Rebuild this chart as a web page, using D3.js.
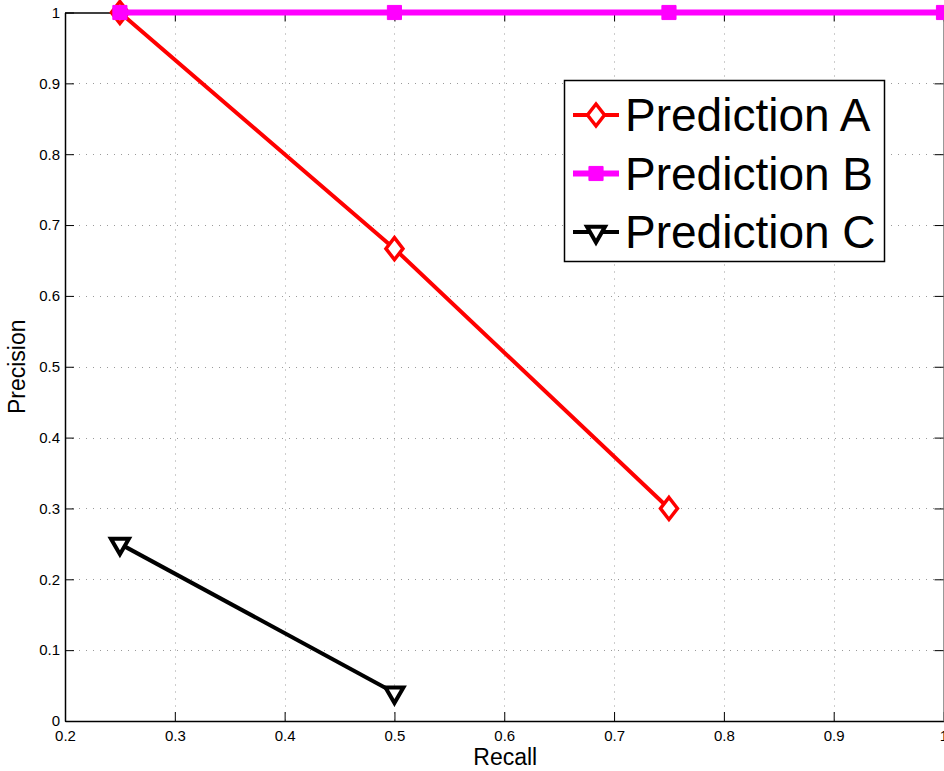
<!DOCTYPE html>
<html>
<head>
<meta charset="utf-8">
<script src="https://cdn.jsdelivr.net/npm/d3@7"></script>
<style>
  html, body { margin: 0; padding: 0; background: #fff; }
  svg { display: block; font-family: "Liberation Sans", Arial, Helvetica, sans-serif; }
</style>
</head>
<body>
<svg id="chart" width="944" height="771"></svg>
<script>
// Precision / recall points for each prediction
const recallA = [0.25, 0.5, 0.75];
const precisionA = [1.0, 0.6667, 0.30];
const recallB = [0.25, 0.5, 0.75, 1.0];
const precisionB = [1.0, 1.0, 1.0, 1.0];
const recallC = [0.25, 0.5];
const precisionC = [0.25, 0.04];

const seriesNames = ["Prediction A", "Prediction B", "Prediction C"];
const xTicks = [0.2, 0.3, 0.4, 0.5, 0.6, 0.7, 0.8, 0.9, 1.0];
const yTicks = [0, 0.1, 0.2, 0.3, 0.4, 0.5, 0.6, 0.7, 0.8, 0.9, 1.0];

const svg = d3.select("#chart");
const W = 944, H = 771;
const m = { left: 65, top: 12.5, right: 0.5, bottom: 50 };
const x = d3.scaleLinear().domain([0.2, 1.0]).range([m.left, W - m.right]);
const y = d3.scaleLinear().domain([0, 1]).range([H - m.bottom, m.top]);

const fmt = v => (v === 0 ? "0" : v === 1 ? "1" : d3.format(".1f")(v));

// dotted grid
const grid = svg.append("g").attr("stroke", "#9a9a9a").attr("stroke-width", 1)
  .attr("stroke-dasharray", "1,6");
grid.selectAll(".gx").data(xTicks.slice(1, -1)).join("line")
  .attr("x1", d => Math.round(x(d)) + 0.5).attr("x2", d => Math.round(x(d)) + 0.5)
  .attr("y1", y(1)).attr("y2", y(0));
grid.selectAll(".gy").data(yTicks.slice(1, -1)).join("line")
  .attr("y1", d => Math.round(y(d)) + 0.5).attr("y2", d => Math.round(y(d)) + 0.5)
  .attr("x1", x(0.2)).attr("x2", x(1));

// axes with inward ticks on all four sides
const tickLen = 9;
const axBottom = svg.append("g").attr("transform", `translate(0,${y(0)})`)
  .call(d3.axisBottom(x).tickValues(xTicks).tickFormat(fmt).tickSizeInner(-tickLen).tickSizeOuter(0).tickPadding(9));
const axLeft = svg.append("g").attr("transform", `translate(${x(0.2)},0)`)
  .call(d3.axisLeft(y).tickValues(yTicks).tickFormat(fmt).tickSizeInner(-tickLen).tickSizeOuter(0).tickPadding(5));
const axTop = svg.append("g").attr("transform", `translate(0,${y(1)})`)
  .call(d3.axisTop(x).tickValues(xTicks).tickFormat("").tickSizeInner(-tickLen).tickSizeOuter(0));
const axRight = svg.append("g").attr("transform", `translate(${x(1)},0)`)
  .call(d3.axisRight(y).tickValues(yTicks).tickFormat("").tickSizeInner(-tickLen).tickSizeOuter(0));
[axBottom, axLeft, axTop, axRight].forEach(g => {
  g.select(".domain").attr("stroke", "#000").attr("stroke-width", 1.5);
  g.selectAll(".tick line").attr("stroke", "#000").attr("stroke-width", 1);
  g.selectAll("text").attr("fill", "#000").attr("font-size", 15)
    .attr("font-family", "'Liberation Sans', Arial, sans-serif");
});
axRight.select(".domain").attr("stroke", "#777");

// axis titles
svg.append("text").attr("x", (x(0.2) + x(1)) / 2 + 1).attr("y", 765)
  .attr("text-anchor", "middle").attr("font-size", 23).text("Recall");
svg.append("text").attr("transform", `translate(25,${(y(0) + y(1)) / 2}) rotate(-90)`)
  .attr("text-anchor", "middle").attr("font-size", 23).text("Precision");

const line = d3.line().x(d => x(d[0])).y(d => y(d[1]));
const zip = (a, b) => a.map((v, i) => [v, b[i]]);

// marker shapes, centred on the origin
const diamondPath = "M0,-11L8.5,0L0,11L-8.5,0Z";
const triPath = d3.symbol().type(d3.symbolTriangle).size(140)();
const squarePath = d3.symbol().type(d3.symbolSquare).size(200)();

const series = [
  { name: seriesNames[0], pts: zip(recallA, precisionA), color: "#ff0000", width: 4,
    marker: diamondPath, fill: "#fff", sw: 3.5, rot: 0 },
  { name: seriesNames[1], pts: zip(recallB, precisionB), color: "#ff00ff", width: 6,
    marker: squarePath, fill: "#ff00ff", sw: 1, rot: 0 },
  { name: seriesNames[2], pts: zip(recallC, precisionC), color: "#000000", width: 4,
    marker: triPath, fill: "#fff", sw: 4, rot: 180 }
];

const markerTransform = (s, px, py) => `translate(${px},${py}) rotate(${s.rot})`;

// draw series in order C, A, B so that B sits on top at the shared point
const drawOrder = [series[2], series[0], series[1]];
drawOrder.forEach(s => {
  svg.append("path").datum(s.pts).attr("d", line).attr("fill", "none")
    .attr("stroke", s.color).attr("stroke-width", s.width).attr("stroke-linejoin", "round");
  svg.append("g").selectAll("path").data(s.pts).join("path")
    .attr("d", s.marker)
    .attr("transform", d => markerTransform(s, x(d[0]), y(d[1])))
    .attr("fill", s.fill).attr("stroke", s.color).attr("stroke-width", s.sw)
    .attr("stroke-linejoin", "miter");
});

// legend
const lg = svg.append("g");
lg.append("rect").attr("x", 564.5).attr("y", 80.5).attr("width", 320).attr("height", 181)
  .attr("fill", "#fff").attr("stroke", "#000").attr("stroke-width", 1.5);
series.forEach((s, i) => {
  const cy = 115 + i * 58.5;
  lg.append("line").attr("x1", 573).attr("x2", 619).attr("y1", cy).attr("y2", cy)
    .attr("stroke", s.color).attr("stroke-width", s.width);
  lg.append("path").attr("d", s.marker)
    .attr("transform", markerTransform(s, 596, cy))
    .attr("fill", s.fill).attr("stroke", s.color).attr("stroke-width", s.sw);
  lg.append("text").attr("x", 625).attr("y", cy + 16).attr("font-size", 46).attr("fill", "#000")
    .text(s.name);
});
</script>
</body>
</html>
